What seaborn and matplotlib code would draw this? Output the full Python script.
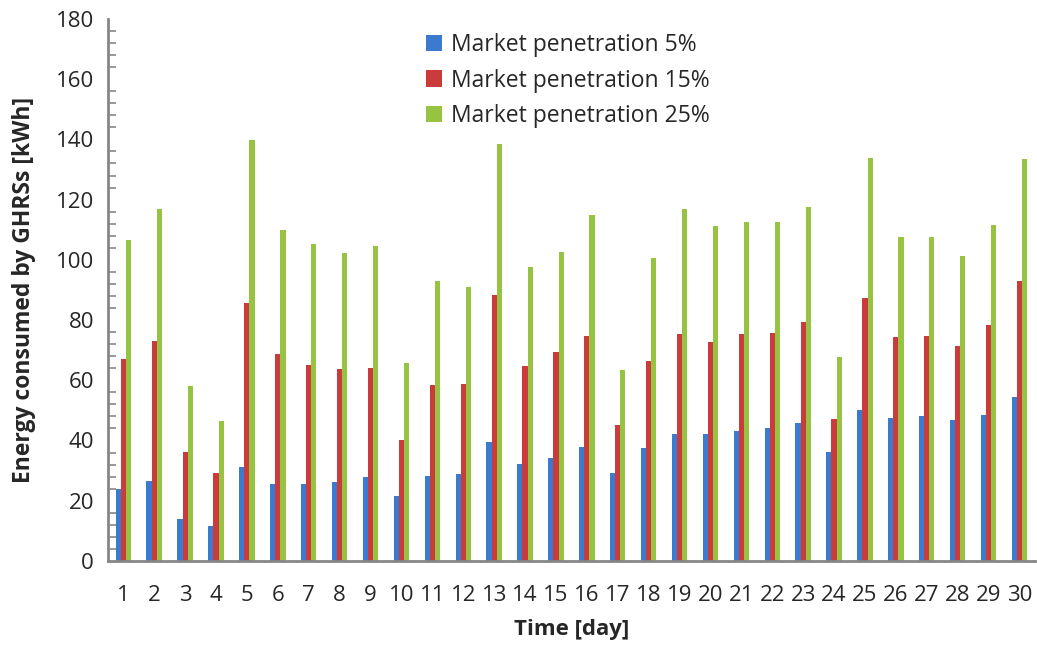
import numpy as np
import pandas as pd
import matplotlib
matplotlib.use("Agg")
import matplotlib.pyplot as plt
import seaborn as sns
from matplotlib.ticker import MultipleLocator

days = list(range(1, 31))
pen_5 = [23.9, 26.6, 13.9, 11.6, 31.2, 25.6, 25.6, 26.2, 27.9, 21.6,
         28.2, 28.9, 39.5, 32.2, 34.2, 37.9, 29.2, 37.5, 42.2, 42.2,
         43.2, 44.2, 45.8, 36.2, 50.1, 47.5, 48.2, 46.8, 48.5, 54.5]
pen_15 = [67.1, 73.0, 36.2, 29.2, 85.7, 68.7, 65.1, 63.8, 64.1, 40.2,
          58.5, 58.8, 88.3, 64.8, 69.4, 74.7, 45.2, 66.4, 75.4, 72.7,
          75.4, 75.7, 79.4, 47.2, 87.3, 74.4, 74.7, 71.4, 78.4, 93.0]
pen_25 = [106.5, 116.8, 58.0, 46.4, 139.7, 109.9, 105.2, 102.3, 104.5, 65.7,
          93.0, 91.0, 138.5, 97.6, 102.6, 114.9, 63.4, 100.6, 116.9, 111.3,
          112.6, 112.6, 117.6, 67.8, 133.8, 107.6, 107.6, 101.3, 111.6, 133.5]
series = ["Market penetration 5%", "Market penetration 15%", "Market penetration 25%"]
colors = ["#3A7BD0", "#CC3B3B", "#97C342"]

df = pd.DataFrame({
    "day": days * 3,
    "energy": pen_5 + pen_15 + pen_25,
    "series": [series[0]] * 30 + [series[1]] * 30 + [series[2]] * 30,
})

sns.set_style("white")
plt.rcParams["font.family"] = ["Open Sans", "DejaVu Sans"]

fig = plt.figure(figsize=(10.37, 6.53), dpi=100)
ax = fig.add_axes([0.104, 0.141, 0.894, 0.830])

sns.barplot(data=df, x="day", y="energy", hue="series", hue_order=series,
            palette=colors, width=0.5, gap=0, saturation=1, ax=ax,
            edgecolor="none", linewidth=0)

ax.set_xlim(-0.5, 29.5)
ax.set_ylim(0, 180)
ax.yaxis.set_major_locator(MultipleLocator(20))
ax.yaxis.set_minor_locator(MultipleLocator(4))

for s in ["top", "right"]:
    ax.spines[s].set_visible(False)
for s in ["left", "bottom"]:
    ax.spines[s].set_color("#868686")
    ax.spines[s].set_linewidth(2)

ax.tick_params(axis="y", which="major", direction="inout", length=14, width=1.5,
               color="#868686", labelsize=16, pad=3)
ax.tick_params(axis="y", which="minor", direction="in", length=6, width=1.2,
               color="#868686", left=True)
ax.tick_params(axis="x", length=0, labelsize=16, pad=17)

ax.set_xlabel("Time [day]", fontsize=16, fontweight="bold", labelpad=10)
ax.set_ylabel("Energy consumed by GHRSs [kWh]", fontsize=16.5, fontweight="bold", labelpad=14)

ax.legend(loc="upper left", bbox_to_anchor=(0.321, 1.012), frameon=False,
          fontsize=16.5, handlelength=0.7, handleheight=0.7, handletextpad=0.4,
          labelspacing=0.5)

fig.savefig("out.png", dpi=100)
